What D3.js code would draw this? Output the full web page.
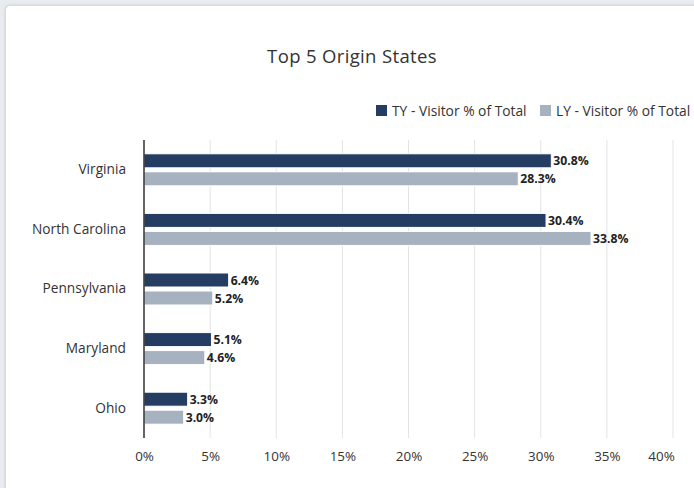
<!DOCTYPE html>
<html>
<head>
<meta charset="utf-8">
<script src="https://cdn.jsdelivr.net/npm/d3@7/dist/d3.min.js"></script>
<style>
  html, body { margin: 0; padding: 0; background: #e8ebef; }
  body { width: 694px; height: 488px; overflow: hidden; position: relative; font-family: "Open Sans", sans-serif; }
  .card { position: absolute; left: 5px; top: 5px; width: 720px; height: 520px; background: #fff;
          border: 1px solid #d6dae0; border-radius: 5px; box-shadow: 0 0 3px rgba(0,0,0,0.12); }
  svg { position: absolute; left: 0; top: 0; }
</style>
</head>
<body>
<div class="card"></div>
<svg id="chart" width="694" height="488"></svg>
<script>
// Origin states and visitor share (% of total), this year vs last year
const states = ["Virginia", "North Carolina", "Pennsylvania", "Maryland", "Ohio"];
const tyValues = [30.8, 30.4, 6.4, 5.1, 3.3];
const lyValues = [28.3, 33.8, 5.2, 4.6, 3.0];
const seriesNames = ["TY - Visitor % of Total", "LY - Visitor % of Total"];
const seriesColors = ["#253d62", "#a7b2c0"];
const xTicks = [0, 5, 10, 15, 20, 25, 30, 35, 40];

const svg = d3.select("#chart");
const plotLeft = 144, plotRight = 673, plotTop = 140, plotBottom = 438;

const x = d3.scaleLinear().domain([0, 40]).range([plotLeft, plotRight]);
const y = d3.scaleBand().domain(states).range([plotTop, plotBottom]).paddingInner(0).paddingOuter(0);

// Title
svg.append("text")
  .attr("x", 352).attr("y", 63)
  .attr("text-anchor", "middle")
  .attr("font-size", 18.5)
  .attr("letter-spacing", 0.35)
  .attr("fill", "#333")
  .text("Top 5 Origin States");

// Legend
const legendItems = [
  { name: seriesNames[0], color: seriesColors[0], x: 376 },
  { name: seriesNames[1], color: seriesColors[1], x: 540 }
];
const lg = svg.append("g");
legendItems.forEach(d => {
  lg.append("rect").attr("x", d.x).attr("y", 105).attr("width", 11).attr("height", 11).attr("fill", d.color);
  lg.append("text").attr("x", d.x + 16).attr("y", 116)
    .attr("font-size", 13.8).attr("fill", "#333").text(d.name);
});

// Vertical gridlines
svg.append("g")
  .selectAll("line")
  .data(xTicks.slice(1))
  .join("line")
  .attr("x1", d => x(d)).attr("x2", d => x(d))
  .attr("y1", plotTop).attr("y2", plotBottom)
  .attr("stroke", "#e3e3e3").attr("stroke-width", 1);

// X axis tick labels
const xAxis = d3.axisBottom(x).tickValues(xTicks).tickSize(0).tickFormat(d => d + "%");
const xg = svg.append("g").attr("transform", `translate(0,${plotBottom})`).call(xAxis);
xg.select(".domain").remove();
xg.selectAll("text")
  .attr("dy", 0).attr("y", 23)
  .attr("font-family", "Open Sans, sans-serif")
  .attr("font-size", 13.4).attr("fill", "#333")
  .attr("dx", d => d === 40 ? -12 : 0);

// Y axis category labels
const yAxis = d3.axisLeft(y).tickSize(0).tickPadding(18);
const yg = svg.append("g").attr("transform", `translate(${plotLeft},0)`).call(yAxis);
yg.select(".domain").remove();
yg.selectAll("text")
  .attr("font-family", "Open Sans, sans-serif")
  .attr("font-size", 13.7).attr("fill", "#333");

// Bars
const barH = 14, gap = 4;
const rows = states.map((s, i) => ({ state: s, ty: tyValues[i], ly: lyValues[i] }));
const series = [
  { key: "ty", color: seriesColors[0], offset: -gap / 2 - barH },
  { key: "ly", color: seriesColors[1], offset: gap / 2 }
];
series.forEach(sr => {
  const g = svg.append("g");
  g.selectAll("rect")
    .data(rows)
    .join("rect")
    .attr("x", x(0))
    .attr("y", d => y(d.state) + y.bandwidth() / 2 + sr.offset)
    .attr("width", d => x(d[sr.key]) - x(0))
    .attr("height", barH)
    .attr("fill", sr.color)
    .attr("stroke", "#ffffff").attr("stroke-width", 1);
  g.selectAll("text")
    .data(rows)
    .join("text")
    .attr("x", d => x(d[sr.key]) + 2)
    .attr("y", d => y(d.state) + y.bandwidth() / 2 + sr.offset + barH / 2 + 4.5)
    .attr("font-size", 12.2)
    .attr("font-weight", "bold")
    .attr("fill", "#222")
    .text(d => d[sr.key].toFixed(1) + "%");
});

// Y axis line
svg.append("line")
  .attr("x1", plotLeft).attr("x2", plotLeft)
  .attr("y1", plotTop).attr("y2", plotBottom)
  .attr("stroke", "#111").attr("stroke-width", 1.3);
</script>
</body>
</html>
